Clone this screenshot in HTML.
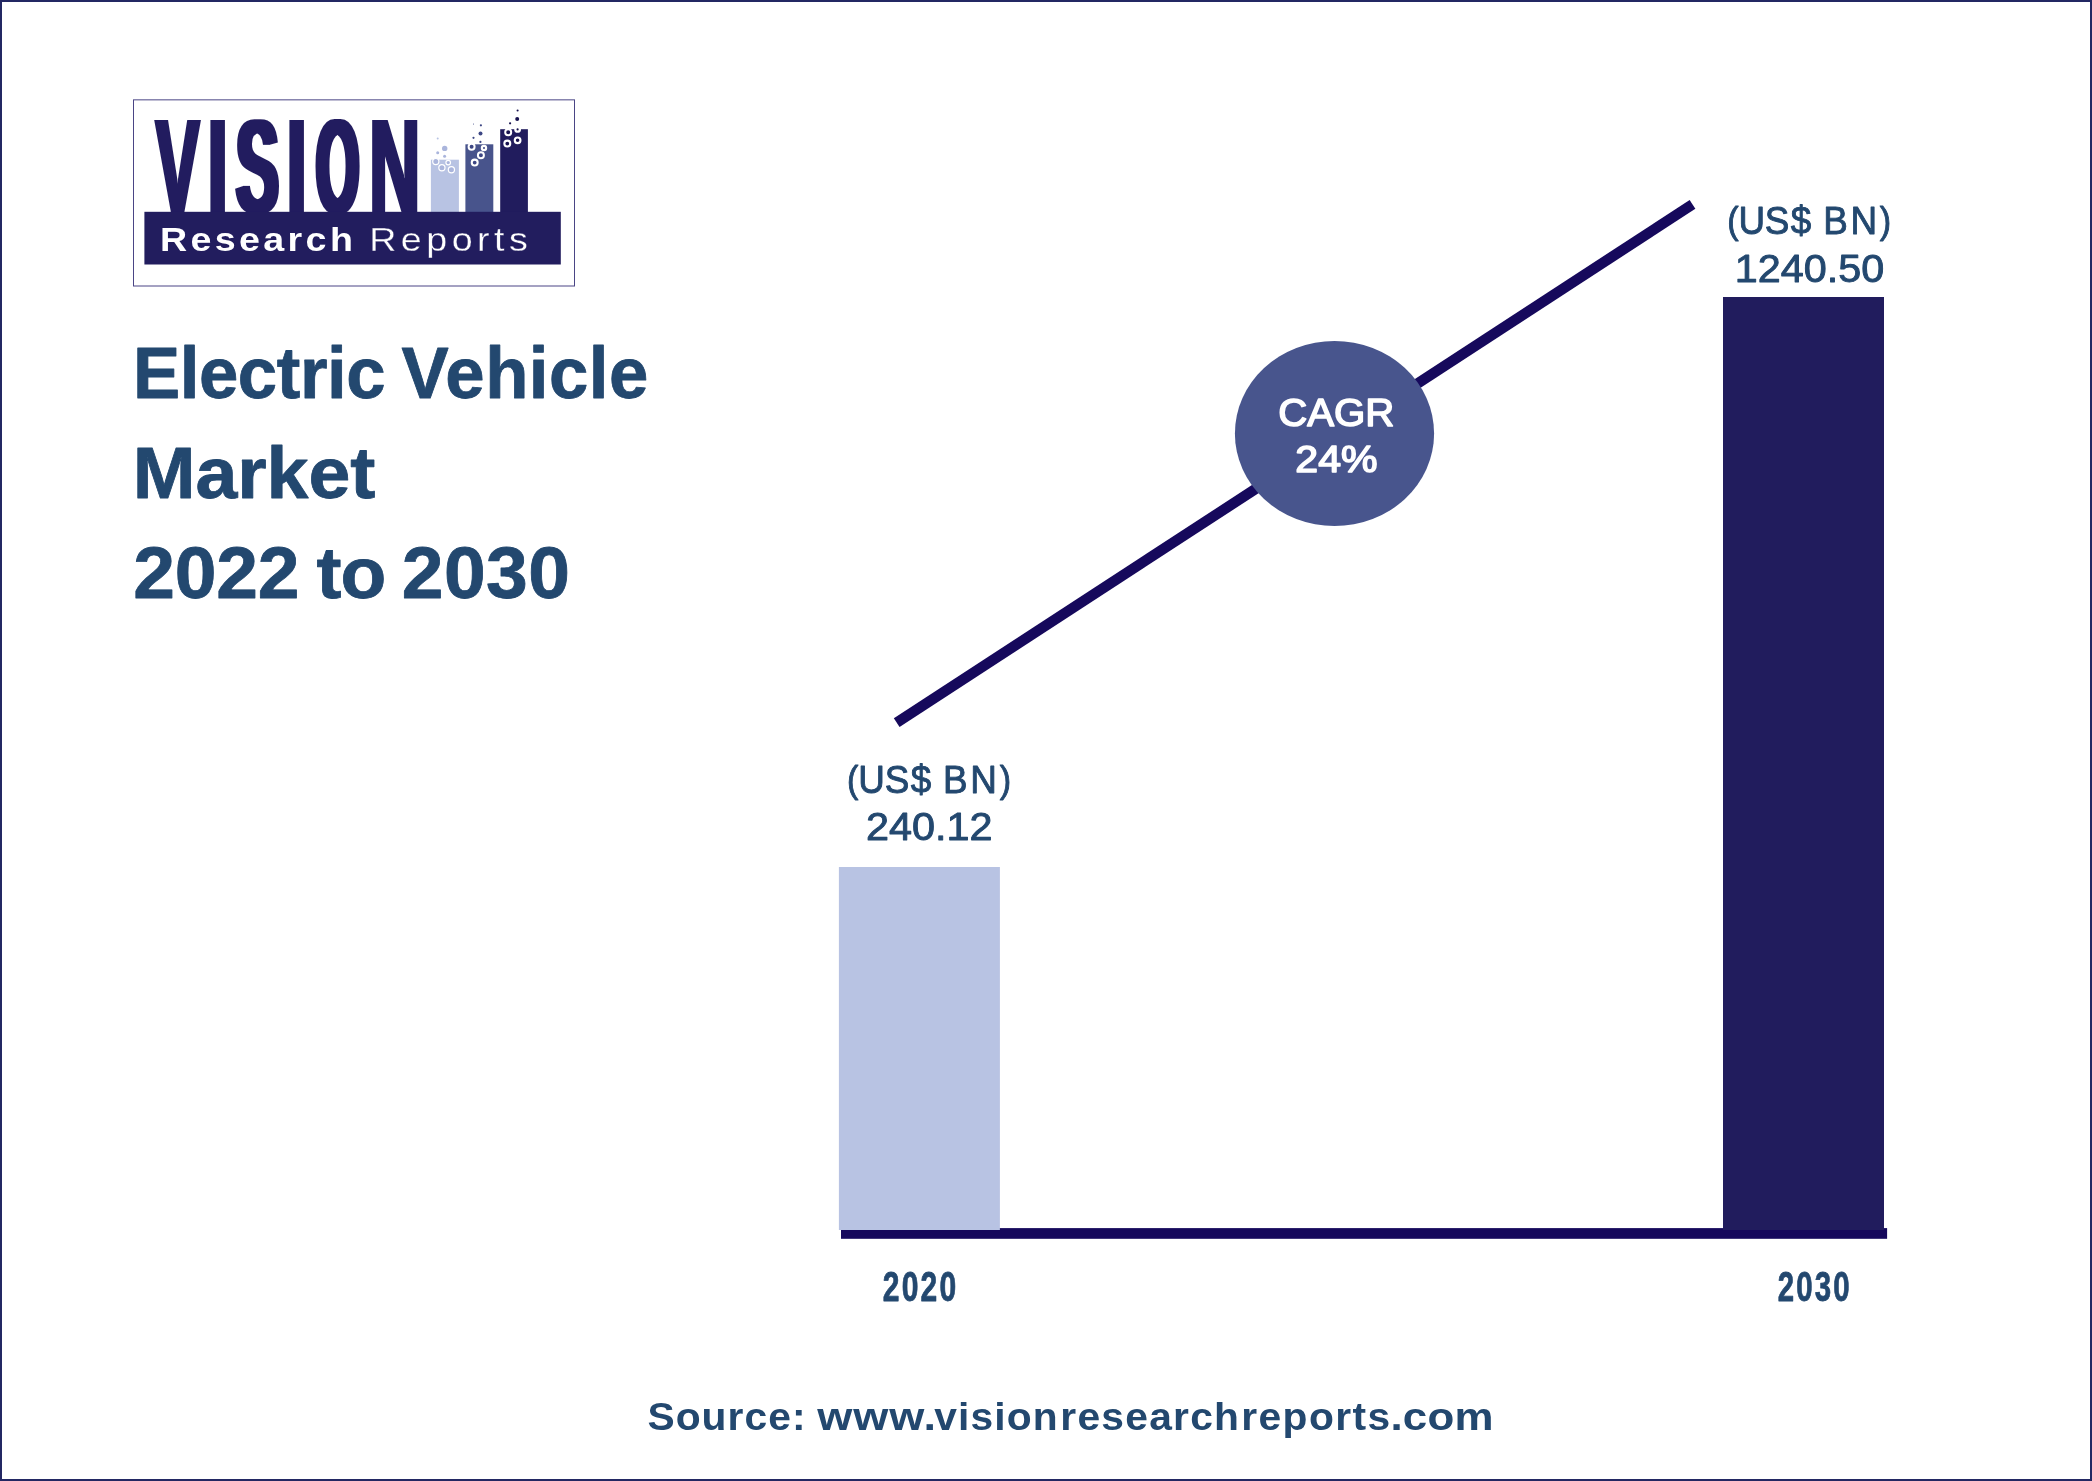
<!DOCTYPE html>
<html lang="en">
<head>
<meta charset="utf-8">
<title>Electric Vehicle Market 2022 to 2030</title>
<style>
  html, body { margin: 0; padding: 0; background: #fff; }
  body { width: 2092px; height: 1481px; overflow: hidden; font-family: "Liberation Sans", sans-serif; }
  .frame { position: absolute; left: 0; top: 0; width: 2092px; height: 1481px; box-sizing: border-box; border: 2px solid #232863; background: #fff; }
  svg { position: absolute; left: 0; top: 0; display: block; will-change: transform; }
  svg text { white-space: pre; }
</style>
</head>
<body>
<div class="frame"></div>
<svg width="2092" height="1481" viewBox="0 0 2092 1481" role="img" aria-label="Electric Vehicle Market 2022 to 2030 chart">
<!-- logo -->
<rect x="133.5" y="99.85" width="441" height="186.15" fill="#fff" stroke="#4a4585" stroke-width="1"/>
<defs><filter id="hb2" x="-10%" y="-5%" width="120%" height="110%"><feMorphology operator="dilate" radius="2 0"/></filter><filter id="hb3" x="-10%" y="-5%" width="120%" height="110%"><feMorphology operator="dilate" radius="3 0"/></filter></defs>
<g font-family="Liberation Sans, sans-serif"><g filter="url(#hb2)"><text transform="translate(0 211.9) scale(0.4911 1)" font-size="133.4" font-weight="bold" fill="#221d5e"><tspan x="317.17">V</tspan></text></g><g filter="url(#hb2)"><text transform="translate(0 211.9) scale(0.5486 1)" font-size="133.4" font-weight="bold" fill="#221d5e"><tspan x="378.2">I</tspan></text></g><g filter="url(#hb3)"><text transform="translate(0 213.2) scale(0.4749 1)" font-size="133.4" font-weight="bold" fill="#221d5e"><tspan x="497.72">S</tspan></text></g><g filter="url(#hb2)"><text transform="translate(0 211.9) scale(0.5486 1)" font-size="133.4" font-weight="bold" fill="#221d5e"><tspan x="522.03">I</tspan></text></g><g filter="url(#hb3)"><text transform="translate(0 213.2) scale(0.4113 1)" font-size="133.4" font-weight="bold" fill="#221d5e"><tspan x="769.11">O</tspan></text></g><g filter="url(#hb2)"><text transform="translate(0 211.9) scale(0.5235 1)" font-size="133.4" font-weight="bold" fill="#221d5e"><tspan x="705.67">N</tspan></text></g></g>
<rect x="430.9" y="159.7" width="28.0" height="52.8" fill="#b8c3e3"/>
<rect x="465.4" y="144.3" width="27.9" height="68.2" fill="#48548c"/>
<rect x="500.2" y="129.2" width="27.7" height="83.3" fill="#211c5d"/>
<g>
<circle cx="437.7" cy="138.5" r="1.0" fill="#b8c3e3"/>
<circle cx="444.7" cy="148.4" r="2.7" fill="#aab5dc"/>
<circle cx="437.7" cy="152.7" r="1.5" fill="#aab5dc"/>
<circle cx="444.6" cy="156.3" r="1.5" fill="#aab5dc"/>
<circle cx="435.8" cy="161.6" r="3.1" fill="#aab5dc" stroke="#fff" stroke-width="1.2"/>
<circle cx="448.2" cy="162.6" r="2.3" fill="#aab5dc" stroke="#fff" stroke-width="1.2"/>
<circle cx="441.9" cy="167.7" r="3.1" fill="#aab5dc" stroke="#fff" stroke-width="1.2"/>
<circle cx="451.4" cy="169.8" r="3.1" fill="#aab5dc" stroke="#fff" stroke-width="1.2"/>
<circle cx="473.5" cy="123.9" r="0.5" fill="#3d4784"/>
<circle cx="480.9" cy="125.3" r="1.1" fill="#3d4784"/>
<circle cx="480.5" cy="133.5" r="2.0" fill="#3d4784"/>
<circle cx="473.5" cy="137.8" r="1.1" fill="#3d4784"/>
<circle cx="480.4" cy="141.9" r="1.1" fill="#3d4784"/>
<circle cx="471.6" cy="146.8" r="3.0" fill="#3d4784" stroke="#fff" stroke-width="2.0"/>
<circle cx="484.0" cy="148.0" r="2.1" fill="#3d4784" stroke="#fff" stroke-width="2.2"/>
<circle cx="480.9" cy="155.3" r="3.0" fill="#3d4784" stroke="#fff" stroke-width="2.0"/>
<circle cx="474.7" cy="162.6" r="2.95" fill="#3d4784" stroke="#fff" stroke-width="2.1"/>
<circle cx="517.6" cy="110.5" r="1.05" fill="#17124f"/>
<circle cx="517.2" cy="118.9" r="2.0" fill="#17124f"/>
<circle cx="510.1" cy="123.3" r="1.1" fill="#17124f"/>
<circle cx="517.6" cy="129.4" r="2.25" fill="#17124f" stroke="#fff" stroke-width="2.3"/>
<circle cx="508.2" cy="132.2" r="3.0" fill="#17124f" stroke="#fff" stroke-width="2.0"/>
<circle cx="517.6" cy="140.3" r="2.8499999999999996" fill="#17124f" stroke="#fff" stroke-width="2.1"/>
<circle cx="507.3" cy="143.6" r="2.95" fill="#17124f" stroke="#fff" stroke-width="2.1"/>
</g>
<rect x="144.4" y="211.8" width="416.4" height="52.7" fill="#221d5e"/>
<g font-family="Liberation Sans, sans-serif"><text transform="translate(0 250.6) scale(1.12 1)" font-size="33.6" fill="#fff"><tspan x="142.86" letter-spacing="2.996" font-weight="bold">Research </tspan><tspan x="329.67" letter-spacing="3.99" font-weight="normal" stroke="#221d5e" stroke-width="0.3">Reports</tspan></text></g>
<!-- title -->
<g font-family="Liberation Sans, sans-serif">
<text transform="translate(0 398.2) scale(0.9829 1)" font-size="72" font-weight="bold" fill="#23486f" stroke="#23486f" stroke-width="0.8" stroke-linejoin="round"><tspan x="135.24" letter-spacing="-0.424">Electric </tspan><tspan x="408.52" letter-spacing="0.491">Vehicle</tspan></text>
<text transform="translate(0 498.2) scale(1.0463 1)" font-size="72" font-weight="bold" fill="#23486f" stroke="#23486f" stroke-width="0.8" stroke-linejoin="round"><tspan x="126.79">Market</tspan></text>
<text transform="translate(0 598.2) scale(1.0413 1)" font-size="72" font-weight="bold" fill="#23486f" stroke="#23486f" stroke-width="0.8" stroke-linejoin="round"><tspan x="127.85" letter-spacing="-0.133">2022 </tspan><tspan x="303.91" letter-spacing="-0.818">to </tspan><tspan x="385.89" letter-spacing="0.403">2030</tspan></text></g>
<!-- chart -->
<rect x="841" y="1228.1" width="1046.1" height="10.7" fill="#16095c"/>
<rect x="838.9" y="867" width="161.0" height="363" fill="#b8c3e3"/>
<rect x="1723" y="297" width="161" height="933" fill="#211c5d"/>
<line x1="896.7" y1="722.6" x2="1692.5" y2="204.4" stroke="#16095c" stroke-width="10.5"/>
<ellipse cx="1334.5" cy="433.5" rx="99.6" ry="92.6" fill="#48558d"/>
<g font-family="Liberation Sans, sans-serif">
<text transform="translate(0 425.6) scale(1.0476 1)" font-size="38.4" font-weight="normal" fill="#fff" stroke="#fff" stroke-width="1.5" stroke-linejoin="round"><tspan x="1220.13">CAGR</tspan></text>
<text transform="translate(0 471.6) scale(1.0991 1)" font-size="37.4" font-weight="normal" fill="#fff" stroke="#fff" stroke-width="1.5" stroke-linejoin="round"><tspan x="1178.57">24%</tspan></text>
<text transform="translate(0 792.8) scale(0.94 1)" font-size="39.2" font-weight="normal" fill="#23486f" stroke="#23486f" stroke-width="0.9" stroke-linejoin="round"><tspan x="901.12" letter-spacing="-0.154"><tspan font-size="36.4" dy="-1">(</tspan><tspan dy="1">US</tspan><tspan dx="1.6">$</tspan> </tspan><tspan x="1003.32" letter-spacing="2.846">BN<tspan font-size="36.4" dy="-1">)</tspan></tspan></text>
<text transform="translate(0 839.6) scale(1.0615 1)" font-size="39.0" font-weight="normal" fill="#23486f" stroke="#23486f" stroke-width="0.9" stroke-linejoin="round"><tspan x="815.78">240.12</tspan></text>
<text transform="translate(0 233.6) scale(0.94 1)" font-size="39.2" font-weight="normal" fill="#23486f" stroke="#23486f" stroke-width="0.9" stroke-linejoin="round"><tspan x="1837.4" letter-spacing="-0.154"><tspan font-size="36.4" dy="-1">(</tspan><tspan dy="1">US</tspan><tspan dx="1.6">$</tspan> </tspan><tspan x="1939.6" letter-spacing="2.846">BN<tspan font-size="36.4" dy="-1">)</tspan></tspan></text>
<text transform="translate(0 281.8) scale(1.0598 1)" font-size="39.0" font-weight="normal" fill="#23486f" stroke="#23486f" stroke-width="0.9" stroke-linejoin="round"><tspan x="1636.87">1240.50</tspan></text>
<text transform="translate(0 1301.4) scale(0.7015 1)" font-size="42.8" font-weight="bold" fill="#23486f" stroke="#23486f" stroke-width="0.8" stroke-linejoin="round"><tspan x="1258.32" letter-spacing="3.2">2020</tspan></text>
<text transform="translate(0 1301.4) scale(0.6869 1)" font-size="42.8" font-weight="bold" fill="#23486f" stroke="#23486f" stroke-width="0.8" stroke-linejoin="round"><tspan x="2588.02" letter-spacing="3.2">2030</tspan></text></g>
<!-- source -->
<g font-family="Liberation Sans, sans-serif"><text transform="translate(0 1430.4) scale(1.04 1)" font-size="39.2" font-weight="bold" fill="#23486f"><tspan x="622.53" letter-spacing="1.01">Source: </tspan></text><text transform="translate(0 1430.4) scale(1.15 1)" font-size="39.2" font-weight="bold" fill="#23486f"><tspan x="710.72" letter-spacing="0.759">www.</tspan></text><text transform="translate(0 1430.4) scale(1.04 1)" font-size="39.2" font-weight="bold" fill="#23486f"><tspan x="898.36" letter-spacing="1.055">vision</tspan><tspan x="1019.58" letter-spacing="1.186">research</tspan><tspan x="1193.52" letter-spacing="1.349">reports</tspan></text><text transform="translate(0 1430.4) scale(1.12 1)" font-size="39.2" font-weight="bold" fill="#23486f"><tspan x="1241.53" letter-spacing="0.139">.com</tspan></text></g>
</svg>
</body>
</html>
